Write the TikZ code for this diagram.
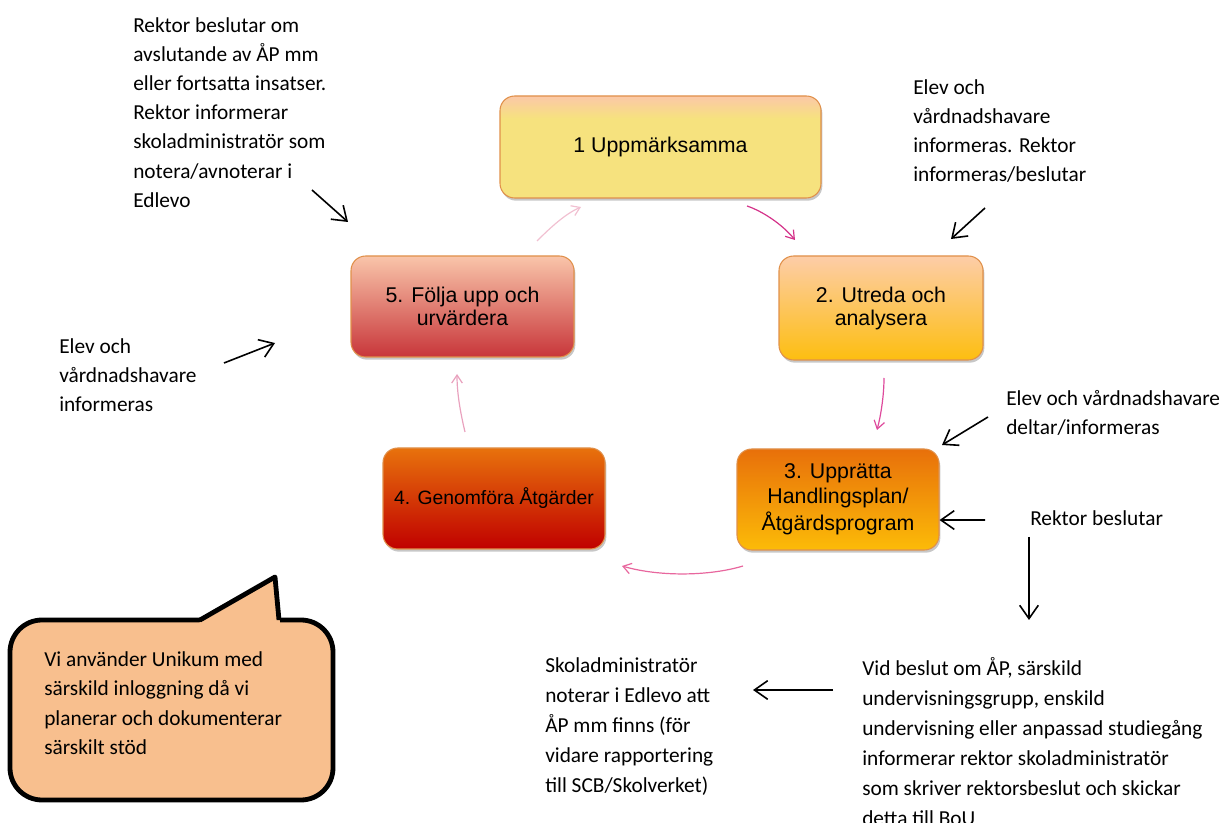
\documentclass[tikz,border=0pt]{standalone}
\usepackage{fontspec}
\setmainfont{Carlito}
\newfontfamily\arialf{Liberation Sans}
\usetikzlibrary{arrows.meta,shadows}
\definecolor{b1top}{HTML}{FBC8A8}
\definecolor{b1bot}{HTML}{F6E27E}
\definecolor{b2top}{HTML}{FDCDA8}
\definecolor{b2bot}{HTML}{FDBE10}
\definecolor{b3top}{HTML}{E8700A}
\definecolor{b3bot}{HTML}{FCBB08}
\definecolor{b4top}{HTML}{E8720C}
\definecolor{b4bot}{HTML}{C00000}
\definecolor{b5top}{HTML}{F9C5AA}
\definecolor{b5bot}{HTML}{C8363A}
\definecolor{boxline}{HTML}{E0904A}
\definecolor{pinkA}{HTML}{D4338A}
\definecolor{pinkB}{HTML}{DE4A9C}
\definecolor{pinkC}{HTML}{E8679E}
\definecolor{pinkD}{HTML}{E9A2BE}
\definecolor{pinkE}{HTML}{F1C0D1}
\definecolor{callfill}{HTML}{F8BF8E}
\pgfdeclareverticalshading{shone}{100bp}{color(0bp)=(b1bot); color(25bp)=(b1bot); color(64bp)=(b1bot); color(75bp)=(b1top); color(100bp)=(b1top)}
\pgfdeclareverticalshading{shtwo}{100bp}{color(0bp)=(b2bot); color(25bp)=(b2bot); color(75bp)=(b2top); color(100bp)=(b2top)}
\pgfdeclareverticalshading{shthree}{100bp}{color(0bp)=(b3bot); color(25bp)=(b3bot); color(75bp)=(b3top); color(100bp)=(b3top)}
\pgfdeclareverticalshading{shfour}{100bp}{color(0bp)=(b4bot); color(25bp)=(b4bot); color(75bp)=(b4top); color(100bp)=(b4top)}
\pgfdeclareverticalshading{shfive}{100bp}{color(0bp)=(b5bot); color(25bp)=(b5bot); color(75bp)=(b5top); color(100bp)=(b5top)}
\tikzset{
  stage/.style={draw=boxline, line width=0.8pt, rounded corners=11pt, align=center, text=black,
    font=\arialf\fontsize{16}{17.25}\selectfont,
    drop shadow={shadow xshift=1pt, shadow yshift=-2pt, opacity=0.22, fill=black}},
  note/.style={font=\fontsize{16}{21.9}\selectfont, align=left, anchor=north west, inner sep=0pt},
  pk/.style={line width=0.9pt, -{Straight Barb[length=6pt,width=8pt]}},
  blk/.style={draw=black, line width=1.2pt, -{Straight Barb[length=10pt,width=14pt]}},
}
\begin{document}
\begin{tikzpicture}[x=0.75pt,y=-0.75pt]
\useasboundingbox (0,0) rectangle (1222,823);

% stages
\node[stage, shading=shone, minimum width=240.75pt, minimum height=76.5pt] (s1) at (660.5,147) {1 Uppmärksamma};
\node[stage, shading=shtwo, minimum width=153pt, minimum height=78pt] (s2) at (881,308) {2. Utreda och\\analysera};
\node[stage, shading=shthree, minimum width=151.5pt, minimum height=75.75pt, font=\arialf\fontsize{16}{18.75}\selectfont] (s3) at (838,499.5) {3. Upprätta\\Handlingsplan/\\[1.5pt]Åtgärdsprogram};
\node[stage, shading=shfour, minimum width=166.5pt, minimum height=75.75pt, font=\arialf\fontsize{14.5}{17}\selectfont] (s4) at (494,498.5) {4. Genomföra Åtgärder};
\node[stage, shading=shfive, minimum width=167.25pt, minimum height=75.75pt] (s5) at (462.5,306.5) {5. Följa upp och\\urvärdera};

% cycle arrows
\coordinate (p1a) at (747,206); \coordinate (p1b) at (795,240);
\coordinate (p2a) at (884,378); \coordinate (p2b) at (877,430);
\coordinate (p3a) at (743,566); \coordinate (p3b) at (622,566);
\coordinate (p4a) at (465,432); \coordinate (p4b) at (457,374);
\coordinate (p5a) at (537,241); \coordinate (p5b) at (581,207);
\draw[pk, draw=pinkA] (p1a) .. controls (762,211) and (782,224) .. (p1b);
\draw[pk, draw=pinkB] (p2a) .. controls (884,395) and (881,415) .. (p2b);
\draw[pk, draw=pinkC] (p3a) .. controls (710,576) and (660,577) .. (p3b);
\draw[pk, draw=pinkD] (p4a) .. controls (461,415) and (457,395) .. (p4b);
\draw[pk, draw=pinkE] (p5a) .. controls (550,228) and (565,214) .. (p5b);

% notes
\node[note] (nA) at (133,17) {Rektor beslutar om\\avslutande av ÅP mm\\eller fortsatta insatser.\\Rektor informerar\\skoladministratör som\\notera/avnoterar i\\Edlevo};
\node[note] (nB) at (913,79) {Elev och\\vårdnadshavare\\informeras. Rektor\\informeras/beslutar};
\node[note] (nC) at (59,338) {Elev och\\vårdnadshavare\\informeras};
\node[note] (nD) at (1006,390) {Elev och vårdnadshavare\\deltar/informeras};
\node[note] (nE) at (1030,510) {Rektor beslutar};
\node[note, font=\fontsize{16}{22.6}\selectfont] (nF) at (545,657) {Skoladministratör\\noterar i Edlevo att\\ÅP mm finns (för\\vidare rapportering\\till SCB/Skolverket)};
\node[note, font=\fontsize{16}{22.6}\selectfont] (nG) at (862,657) {Vid beslut om ÅP, särskild\\undervisningsgrupp, enskild\\undervisning eller anpassad studiegång\\informerar rektor skoladministratör\\som skriver rektorsbeslut och skickar\\detta till BoU};

% black arrows
\coordinate (a1s) at (312,190); \coordinate (a1e) at (348,222);
\coordinate (a2s) at (985,208); \coordinate (a2e) at (951,239);
\coordinate (a3s) at (224,363); \coordinate (a3e) at (275,343);
\coordinate (a4s) at (988,417); \coordinate (a4e) at (942,445);
\coordinate (a5s) at (985,520);
\coordinate (a6s) at (1029,537); \coordinate (a6e) at (1029,620);
\coordinate (a7s) at (833,690); \coordinate (a7e) at (753,690);
\draw[blk] (a1s) -- (a1e);
\draw[blk] (a2s) -- (a2e);
\draw[blk] (a3s) -- (a3e);
\draw[blk] (a4s) -- (a4e);
\draw[blk] (a5s) -- ([yshift=-15.4pt]s3.east);
\draw[blk] (a6s) -- (a6e);
\draw[blk] (a7s) -- (a7e);

% callout
\draw[line width=3.6pt, fill=callfill, rounded corners=24pt] (10,620) rectangle (333,800);
\fill[callfill] (199,623) -- (275,578) -- (280,623) -- cycle;
\draw[line width=3.6pt, line join=round] (200,620) -- (275,577) -- (279,620);
\node[note, font=\fontsize{16}{22.1}\selectfont] (cT) at (44,651) {Vi använder Unikum med\\särskild inloggning då vi\\planerar och dokumenterar\\särskilt stöd};
\end{tikzpicture}
\end{document}
